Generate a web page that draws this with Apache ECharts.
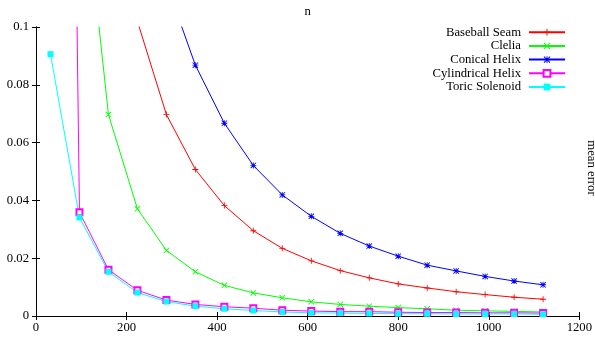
<!DOCTYPE html>
<html>
<head>
<meta charset="utf-8">
<script src="https://cdn.jsdelivr.net/npm/echarts@6/dist/echarts.min.js"></script>
<style>
html,body{margin:0;padding:0;background:#fff;}
#chart{width:595px;height:340px;}
</style>
</head>
<body>
<div id="chart"></div>
<script>
// sample sizes n
var nValues = [32, 96, 160, 224, 288, 352, 416, 480, 544, 608, 672, 736, 800, 864, 928, 992, 1056, 1120];
// mean error per curve
var baseballSeam = [1.9, 0.36, 0.17, 0.102, 0.0697, 0.0507, 0.0382, 0.0295, 0.0234, 0.0191, 0.0157, 0.0132, 0.0111, 0.0097, 0.0084, 0.0074, 0.0065, 0.0058];
var clelia = [0.6, 0.163, 0.0697, 0.0371, 0.0227, 0.0153, 0.0106, 0.0080, 0.0063, 0.0049, 0.0040, 0.0034, 0.0029, 0.0025, 0.0020, 0.0018, 0.0016, 0.0014];
var conicalHelix = [3.0, 1.0, 0.33, 0.17, 0.115, 0.0868, 0.0667, 0.0521, 0.0419, 0.0345, 0.0286, 0.0242, 0.0207, 0.0176, 0.0156, 0.0137, 0.0121, 0.0108];
var cylindricalHelix = [0.81, 0.0359, 0.0160, 0.0089, 0.0055, 0.0040, 0.0032, 0.0027, 0.0020, 0.0017, 0.0015, 0.0015, 0.0013, 0.0012, 0.0012, 0.0011, 0.0011, 0.0010];
var toricSolenoid = [0.0906, 0.0341, 0.0153, 0.0081, 0.0050, 0.0034, 0.0025, 0.0019, 0.0014, 0.0011, 0.0010, 0.0009, 0.0008, 0.0008, 0.0007, 0.0007, 0.0007, 0.0006];
var seriesNames = ['Baseball Seam', 'Clelia', 'Conical Helix', 'Cylindrical Helix', 'Toric Solenoid'];
var xTicks = {min: 0, max: 1200, interval: 200};
var yTicks = {min: 0, max: 0.1, interval: 0.02};
var xTitle = 'n';
var yTitle = 'mean error';

var FONT = 'Liberation Serif';
var plusPath = 'path://M4.3,0 H5.7 V4.3 H10 V5.7 H5.7 V10 H4.3 V5.7 H0 V4.3 H4.3 Z';
var crossPath = 'path://M0,1 L1,0 L10,9 L9,10 Z M9,0 L10,1 L1,10 L0,9 Z';
var starPath = 'path://M4.3,0 H5.7 V4.3 H10 V5.7 H5.7 V10 H4.3 V5.7 H0 V4.3 H4.3 Z M0,1 L1,0 L10,9 L9,10 Z M9,0 L10,1 L1,10 L0,9 Z';

function pairs(vals) {
  var out = [];
  for (var i = 0; i < nValues.length; i++) out.push([nValues[i], vals[i]]);
  return out;
}
function mk(name, vals, color, symbol, size, extra) {
  var s = {
    name: name, type: 'line', data: pairs(vals), symbol: symbol, symbolSize: size,
    clip: true, animation: false,
    lineStyle: {color: color, width: 1},
    itemStyle: {color: color},
    emphasis: {disabled: true}
  };
  if (extra) for (var k in extra) s[k] = extra[k];
  return s;
}

var axisLine = {show: true, lineStyle: {color: '#000', width: 1}};
var chart = echarts.init(document.getElementById('chart'), null, {renderer: 'canvas'});
chart.setOption({
  backgroundColor: '#fff',
  textStyle: {fontFamily: FONT},
  grid: {left: 36, right: 14, top: 21, bottom: 24, containLabel: false},
  legend: {
    orient: 'vertical', align: 'right', right: 29, top: 25.7, padding: 0,
    itemWidth: 36, itemHeight: 8.5, itemGap: 0.7,
    textStyle: {fontFamily: FONT, fontSize: 12.7, lineHeight: 12, color: '#000', padding: [0, 3, 0, 0]},
    data: seriesNames
  },
  graphic: [{
    type: 'text', x: 591, y: 168, rotation: -Math.PI / 2, silent: true,
    style: {text: yTitle, fill: '#000', font: '12.7px "Liberation Serif"', align: 'center', verticalAlign: 'middle'}
  }],
  xAxis: [
    {type: 'value', position: 'bottom', min: xTicks.min, max: xTicks.max, interval: xTicks.interval,
     axisLine: axisLine, axisTick: {inside: true, length: 4, lineStyle: {color: '#000'}},
     axisLabel: {color: '#000', fontFamily: FONT, fontSize: 12.7, margin: 5,
                 formatter: function (v) { return String(v); }},
     splitLine: {show: false}},
    {type: 'value', position: 'top', min: xTicks.min, max: xTicks.max, interval: xTicks.interval,
     name: xTitle, nameLocation: 'middle', nameGap: 9,
     nameTextStyle: {color: '#000', fontFamily: FONT, fontSize: 12.7},
     axisLine: axisLine, axisTick: {inside: true, length: 4, lineStyle: {color: '#000'}},
     axisLabel: {show: false}, splitLine: {show: false}}
  ],
  yAxis: [
    {type: 'value', position: 'left', min: yTicks.min, max: yTicks.max, interval: yTicks.interval,
     axisLine: axisLine, axisTick: {inside: true, length: 4, lineStyle: {color: '#000'}},
     axisLabel: {color: '#000', fontFamily: FONT, fontSize: 12.7, margin: 7,
                 formatter: function (v) { return String(v); }},
     splitLine: {show: false}},
    {type: 'value', position: 'right', min: yTicks.min, max: yTicks.max, interval: yTicks.interval,
     axisLine: axisLine, axisTick: {inside: true, length: 4, lineStyle: {color: '#000'}},
     axisLabel: {show: false}, splitLine: {show: false}}
  ],
  series: [
    mk(seriesNames[0], baseballSeam, '#ff0000', plusPath, 6),
    mk(seriesNames[1], clelia, '#00ff00', crossPath, 6),
    mk(seriesNames[2], conicalHelix, '#0000ff', starPath, 6),
    mk(seriesNames[3], cylindricalHelix, '#ff00ff', 'emptyRect', 6, {itemStyle: {color: '#ff00ff', borderWidth: 1}}),
    mk(seriesNames[4], toricSolenoid, '#00ffff', 'rect', 6)
  ]
});
</script>
</body>
</html>
